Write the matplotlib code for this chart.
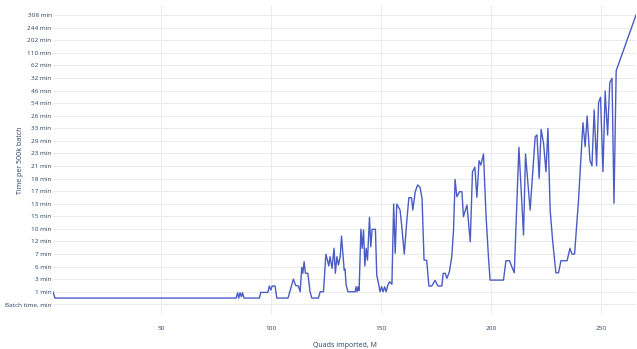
import matplotlib
matplotlib.use("Agg")
import matplotlib.pyplot as plt

# y axis is a category axis, labels bottom -> top
y_labels = ["Batch time, min", "1 min", "3 min", "6 min", "7 min", "12 min", "10 min",
            "15 min", "13 min", "17 min", "18 min", "21 min", "23 min", "29 min",
            "33 min", "26 min", "54 min", "46 min", "32 min", "62 min", "110 min",
            "202 min", "244 min", "308 min"]

# Quads imported, M
quads = [0.9, 1.8, 84.1, 84.8, 85.3, 85.9, 86.5, 87.0, 87.7, 94.7,
         95.3, 98.5, 99.2, 99.9, 100.5, 101.8, 102.6, 107.7, 110.1, 111.2,
         112.4, 113.2, 113.95, 114.4, 115.0, 115.6, 116.7, 117.7, 118.5, 121.5,
         122.3, 123.8, 124.9, 125.6, 126.2, 126.8, 127.7, 128.6, 129.2, 129.9,
         130.6, 131.4, 132.0, 133.2, 133.6, 134.1, 134.9, 138.2, 138.6, 139.1,
         139.5, 140.0, 140.8, 141.4, 142.0, 142.6, 143.2, 143.8, 144.7, 145.3,
         145.9, 147.4, 148.0, 148.95, 149.5, 150.2, 150.9, 151.6, 152.3, 153.0,
         153.8, 154.9, 155.7, 156.4, 157.1, 158.6, 159.4, 160.5, 161.7, 162.6,
         163.8, 164.4, 165.5, 166.6, 167.7, 168.6, 169.5, 170.7, 171.7, 173.0,
         174.5, 175.8, 177.6, 178.2, 179.1, 179.9, 181.0, 182.1, 182.9, 183.6,
         184.4, 185.6, 186.7, 187.4, 189.0, 190.5, 191.5, 192.6, 193.5, 194.5,
         195.3, 196.5, 197.7, 198.8, 199.5, 205.6, 206.7, 208.3, 209.4, 210.5,
         212.6, 214.7, 215.6, 217.7, 220.0, 220.8, 221.8, 222.7, 223.8, 224.9,
         225.8, 226.8, 227.9, 229.4, 230.6, 231.7, 234.5, 235.8, 236.7, 237.9,
         239.7, 241.7, 242.7, 243.6, 244.9, 245.8, 246.8, 247.9, 248.8, 249.7,
         250.8, 251.8, 252.9, 253.9, 254.9, 255.8, 256.8, 265.8]

# batch time, as position on the category axis
batch_time = [1.0, 0.5, 0.5, 0.92, 0.5, 0.92, 0.6, 0.92, 0.5, 0.5,
              0.95, 0.95, 1.46, 1.14, 1.46, 1.46, 0.5, 0.5, 2.0, 1.5,
              1.46, 1.0, 2.94, 2.47, 3.39, 2.47, 2.47, 1.0, 0.5, 0.5,
              1.0, 1.0, 3.98, 3.52, 3.05, 3.79, 2.86, 4.46, 2.47, 3.79,
              3.13, 3.79, 5.43, 2.73, 2.8, 1.54, 1.0, 1.0, 1.4, 1.0,
              1.4, 1.1, 5.97, 4.46, 5.91, 3.05, 4.46, 3.52, 6.92, 4.58,
              5.97, 5.97, 2.33, 1.54, 1.0, 1.4, 1.0, 1.4, 1.0, 1.5,
              1.8, 1.6, 7.98, 4.06, 7.98, 7.5, 6.17, 4.0, 6.7, 8.48,
              8.48, 7.5, 8.96, 9.5, 9.3, 8.4, 3.52, 3.5, 1.46, 1.46,
              1.9, 1.46, 1.46, 2.47, 2.47, 2.07, 2.59, 3.79, 5.91, 9.94,
              8.56, 8.96, 8.96, 6.97, 7.9, 4.98, 10.55, 10.9, 8.51, 11.42,
              11.08, 11.96, 6.97, 3.66, 1.93, 1.93, 3.47, 3.47, 2.99, 2.51,
              12.49, 5.51, 11.96, 7.5, 13.33, 13.47, 10.02, 13.92, 12.81, 10.55,
              14.0, 7.5, 5.12, 2.51, 2.51, 3.47, 3.47, 4.46, 4.0, 4.0,
              8.3, 14.45, 12.54, 14.98, 11.42, 11.02, 15.46, 11.02, 16.04, 16.47,
              10.55, 16.97, 13.47, 17.63, 17.98, 8.04, 18.58, 23.0]

x_ticks = [50, 100, 150, 200, 250]

plt.rcParams['font.family'] = ['Open Sans', 'DejaVu Sans']
text_color = '#2a3f5f'

fig = plt.figure(figsize=(6.37, 3.49), dpi=100)
ax = fig.add_axes([0.0832, 0.0991, 0.9152, 0.8863])

ax.plot(quads, batch_time, color='#4a5dc4', linewidth=1.0)

ax.set_xlim(min(quads), max(quads))
ax.set_ylim(-0.8, 23.8)
ax.set_yticks(range(len(y_labels)))
ax.set_yticklabels(y_labels)
ax.set_xticks(x_ticks)

ax.grid(True, color='#ebebeb', linewidth=0.7)
ax.set_axisbelow(True)
for s in ax.spines.values():
    s.set_visible(False)
ax.tick_params(axis='both', length=0, labelsize=4.6, colors=text_color)
ax.tick_params(axis='y', pad=1)
ax.tick_params(axis='x', pad=8)

ax.set_xlabel('Quads imported, M', fontsize=5, color=text_color, labelpad=8)
# y title sits inside the tick label column, as in the original
fig.text(21 / 637, 1 - 160 / 349, 'Time per 500k batch', fontsize=5, color=text_color,
         rotation=90, ha='center', va='center')

fig.savefig('out.png', dpi=100, facecolor='white')
